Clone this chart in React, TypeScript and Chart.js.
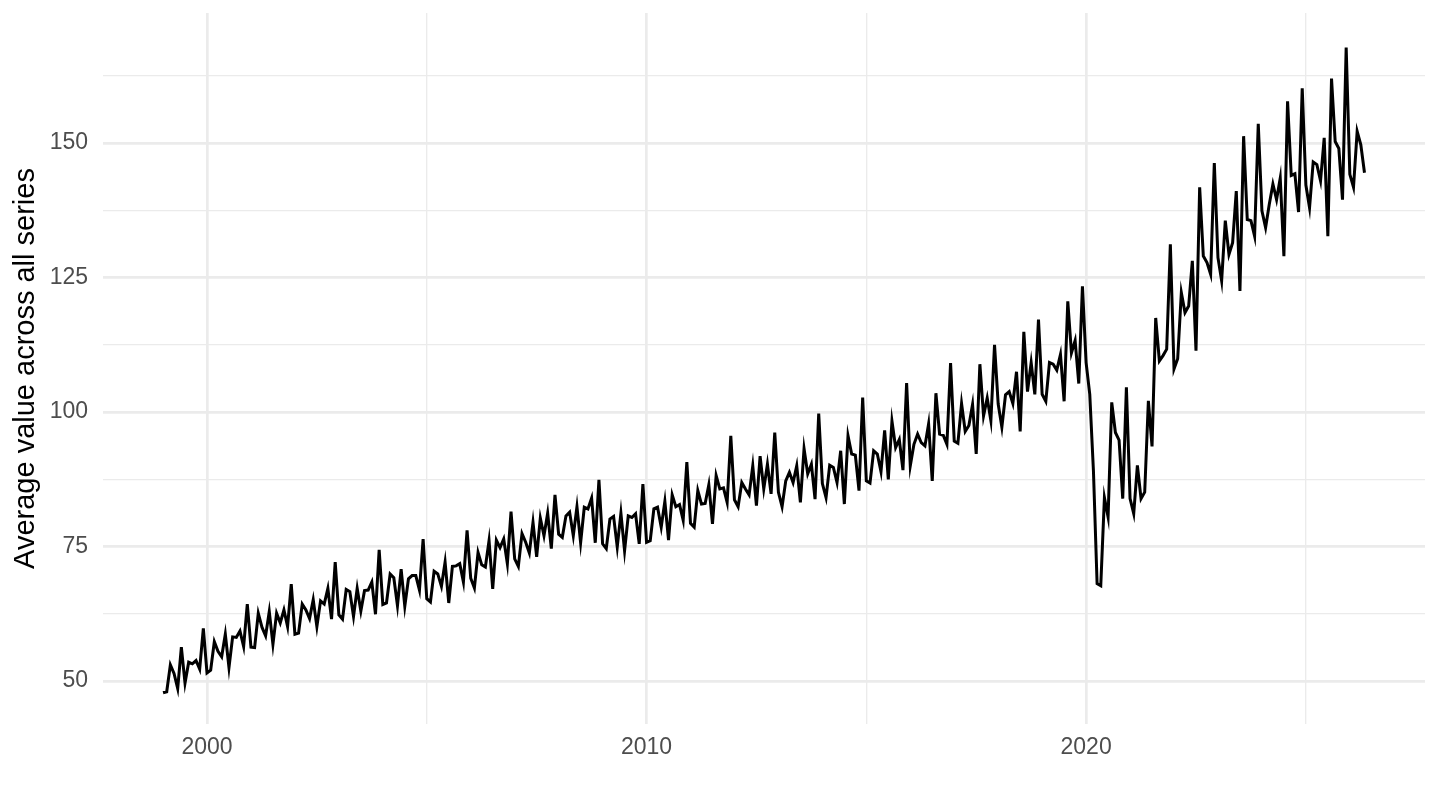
import React, { useEffect, useRef } from "react";
import { Chart, registerables } from "chart.js";

Chart.register(...registerables);

const START_YEAR = 1999; // first observation: January 1999, monthly data
const Y_TITLE = "Average value across all series";
const X_TICK_LABELS = [2000, 2010, 2020];
const Y_TICK_LABELS = [50, 75, 100, 125, 150];

const v1999 = [47.8, 48.0, 53.0, 51.4, 48.6, 56.3, 49.6, 53.5, 53.2, 53.8, 52.2, 59.8];
const v2000 = [51.5, 52.0, 57.3, 55.5, 54.5, 58.7, 52.5, 58.2, 58.1, 59.3, 56.4, 64.3];
const v2001 = [56.3, 56.2, 62.6, 60.0, 58.4, 62.9, 56.8, 62.6, 60.8, 63.2, 60.1, 68.0];
const v2002 = [58.7, 58.9, 64.3, 63.2, 61.6, 65.1, 60.1, 64.9, 64.3, 67.2, 61.5, 72.1];
const v2003 = [62.3, 61.5, 67.0, 66.6, 62.0, 67.2, 63.0, 66.8, 66.9, 68.4, 62.4, 74.4];
const v2004 = [64.2, 64.5, 69.9, 69.2, 64.0, 70.8, 63.9, 69.0, 69.6, 69.6, 66.9, 76.4];
const v2005 = [65.3, 64.7, 70.4, 69.9, 67.6, 72.1, 64.5, 71.3, 71.4, 71.8, 68.4, 78.0];
const v2006 = [69.1, 67.3, 73.9, 71.6, 71.2, 76.1, 67.1, 76.2, 74.8, 76.4, 71.8, 81.5];
const v2007 = [72.7, 71.3, 77.4, 75.8, 73.8, 79.5, 73.1, 80.3, 77.0, 81.2, 74.6, 84.6];
const v2008 = [77.3, 76.7, 80.7, 81.4, 77.0, 82.4, 75.7, 82.3, 82.0, 84.0, 75.7, 87.4];
const v2009 = [75.5, 74.6, 80.1, 80.6, 74.9, 81.2, 74.2, 80.7, 80.4, 81.1, 75.5, 86.6];
const v2010 = [75.8, 76.1, 82.0, 82.3, 78.6, 83.4, 76.2, 84.6, 82.4, 82.8, 79.9, 90.7];
const v2011 = [79.3, 78.6, 85.4, 82.9, 83.0, 86.5, 79.2, 88.2, 85.7, 85.9, 83.2, 95.6];
const v2012 = [83.7, 82.4, 86.9, 85.7, 84.6, 90.0, 82.6, 91.8, 85.7, 90.3, 84.8, 96.2];
const v2013 = [85.1, 82.4, 87.2, 88.8, 86.9, 90.0, 83.2, 93.2, 88.5, 90.3, 83.8, 99.7];
const v2014 = [86.7, 84.1, 90.1, 89.7, 86.9, 92.8, 82.9, 95.6, 92.2, 92.0, 85.4, 102.7];
const v2015 = [87.2, 86.8, 92.8, 92.2, 88.9, 96.6, 87.5, 98.3, 93.4, 94.9, 89.2, 105.4];
const v2016 = [90.0, 94.0, 95.9, 94.3, 93.7, 97.8, 87.2, 103.5, 95.9, 95.7, 94.0, 109.1];
const v2017 = [94.6, 94.2, 101.6, 96.4, 97.5, 101.4, 92.2, 108.9, 99.3, 102.6, 98.4, 112.5];
const v2018 = [101.5, 97.2, 103.2, 103.8, 101.6, 107.5, 96.4, 114.9, 103.8, 109.2, 103.3, 117.2];
const v2019 = [103.3, 102.0, 109.2, 108.9, 107.8, 110.7, 102.0, 120.6, 111.0, 113.3, 105.3, 123.4];
const v2020 = [109.2, 103.3, 89.1, 68.1, 67.7, 84.1, 80.5, 101.8, 96.2, 94.8, 83.9, 104.6];
const v2021 = [83.9, 81.1, 90.1, 83.9, 85.1, 102.1, 93.6, 117.5, 109.5, 110.5, 111.7, 131.2];
const v2022 = [108.0, 109.9, 122.2, 118.5, 119.7, 128.1, 111.4, 141.8, 129.0, 127.8, 125.6, 146.3];
const v2023 = [128.7, 124.4, 135.6, 129.3, 131.5, 141.1, 122.5, 151.3, 135.8, 135.6, 132.7, 153.6];
const v2024 = [137.4, 134.3, 138.6, 142.4, 139.5, 143.5, 129.0, 157.8, 144.0, 144.3, 137.2, 160.2];
const v2025 = [142.2, 138.0, 146.5, 146.0, 143.0, 151.0, 132.7, 162.0, 150.3, 149.0, 139.5, 167.8];
const v2026 = [144.2, 141.8, 152.2, 149.7, 144.5];

const VALUES = [
  ...v1999, ...v2000, ...v2001, ...v2002, ...v2003, ...v2004, ...v2005,
  ...v2006, ...v2007, ...v2008, ...v2009, ...v2010, ...v2011, ...v2012,
  ...v2013, ...v2014, ...v2015, ...v2016, ...v2017, ...v2018, ...v2019,
  ...v2020, ...v2021, ...v2022, ...v2023, ...v2024, ...v2025, ...v2026,
];

const FONT = "'Liberation Sans', Arial, Helvetica, sans-serif";

export default function App() {
  const ref = useRef<HTMLCanvasElement>(null);

  useEffect(() => {
    document.body.style.margin = "0";
    const points = VALUES.map((y, i) => ({ x: START_YEAR + i / 12, y }));
    const chart = new Chart(ref.current as HTMLCanvasElement, {
      type: "line",
      data: {
        datasets: [
          {
            data: points,
            borderColor: "#000000",
            borderWidth: 3,
            pointRadius: 0,
            tension: 0,
            fill: false,
          },
        ],
      },
      options: {
        animation: false,
        responsive: false,
        layout: { padding: { top: 13, right: 15, bottom: 0, left: 0 } },
        plugins: { legend: { display: false }, tooltip: { enabled: false } },
        scales: {
          x: {
            type: "linear",
            min: 1997.634,
            max: 2027.71,
            border: { display: false },
            grid: {
              color: "#EBEBEB",
              drawTicks: false,
              lineWidth: (ctx: any) =>
                ctx.tick && X_TICK_LABELS.includes(ctx.tick.value) ? 2.7 : 1.35,
            },
            ticks: {
              stepSize: 5,
              includeBounds: false,
              autoSkip: false,
              maxRotation: 0,
              padding: 10,
              color: "#4D4D4D",
              font: { size: 23, family: FONT },
              callback: (v: any) => (X_TICK_LABELS.includes(Number(v)) ? String(v) : ""),
            },
            afterFit: (s: any) => {
              s.height = 86;
              s.paddingLeft = 0;
              s.paddingRight = 0;
            },
          },
          y: {
            type: "linear",
            min: 42,
            max: 174.2,
            border: { display: false },
            grid: {
              color: "#EBEBEB",
              drawTicks: false,
              lineWidth: (ctx: any) =>
                ctx.tick && Y_TICK_LABELS.includes(ctx.tick.value) ? 2.7 : 1.35,
            },
            ticks: {
              stepSize: 12.5,
              includeBounds: false,
              autoSkip: false,
              padding: 15,
              color: "#4D4D4D",
              font: { size: 23, family: FONT },
              callback: (v: any) => (Y_TICK_LABELS.includes(Number(v)) ? String(v) : ""),
            },
            title: {
              display: true,
              text: Y_TITLE,
              color: "#000000",
              font: { size: 29, family: FONT },
              padding: { top: 9, bottom: 0 },
            },
            afterFit: (s: any) => {
              s.width = 103;
              s.paddingTop = 0;
              s.paddingBottom = 0;
            },
          },
        },
      },
    });
    return () => chart.destroy();
  }, []);

  return (
    <div style={{ width: 1440, height: 810, background: "#ffffff" }}>
      <canvas ref={ref} width={1440} height={810} style={{ display: "block" }} />
    </div>
  );
}
